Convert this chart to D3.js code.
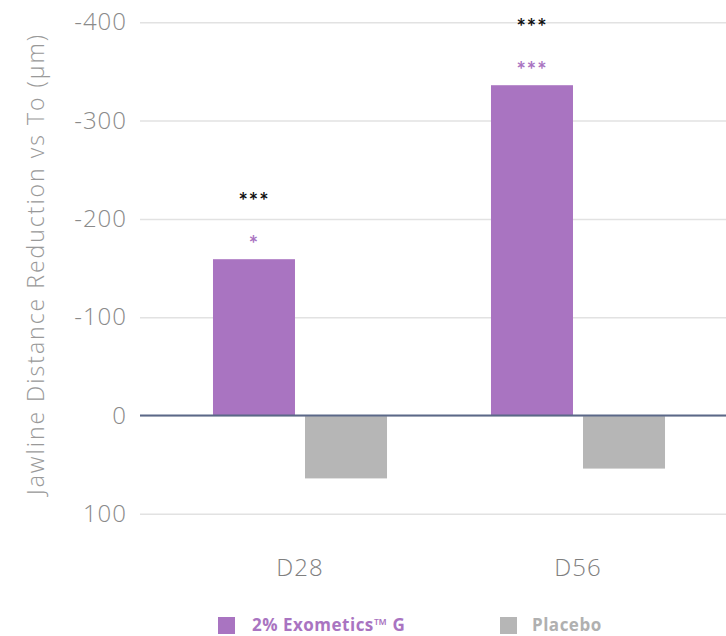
<!DOCTYPE html>
<html>
<head>
<meta charset="utf-8">
<script src="https://cdn.jsdelivr.net/npm/d3@7"></script>
<style>
  body { margin: 0; background: #fff; }
  svg text { font-family: "Open Sans", Lato, sans-serif; }
</style>
</head>
<body>
<svg id="chart" width="726" height="636"></svg>
<script>
// chart data
var categories = ["D28", "D56"];
var seriesNames = ["2% Exometics™ G", "Placebo"];
var exometics = [-159, -336];
var placebo = [64, 54];
var starsVsPlacebo = ["***", "***"];   // black stars above the purple bars
var starsVsT0 = ["*", "***"];          // purple stars just above the purple bars
var yTicks = [-400, -300, -200, -100, 0, 100];

var colors = ["#a974c1", "#b6b6b6"];

var svg = d3.select("#chart");

// scales
var yScale = d3.scaleLinear()
    .domain([-400, 100])
    .range([22.3, 513.8]);

var x0 = d3.scaleBand()
    .domain(categories)
    .range([161, 717])
    .paddingInner(0.374)
    .paddingOuter(0.187);

var x1 = d3.scaleBand()
    .domain([0, 1])
    .range([0, x0.bandwidth()])
    .paddingInner(0.109);

// gridlines + tick labels
var yAxis = d3.axisLeft(yScale)
    .tickValues(yTicks)
    .tickSize(-586)
    .tickPadding(13)
    .tickFormat(function(d) { return d; });

svg.append("g")
    .attr("transform", "translate(140,0)")
    .call(yAxis)
    .call(function(g) {
        g.select(".domain").remove();
        g.selectAll(".tick line").attr("stroke", "#e2e2e2").attr("stroke-width", 1.5);
        g.selectAll(".tick text")
            .attr("fill", "#8a8a8a")
            .style("font-size", "24px")
            .style("font-weight", "300")
            .style("letter-spacing", "1px");
    });

// bars
var groups = svg.selectAll(".grp")
    .data(categories)
    .enter()
    .append("g")
    .attr("class", "grp")
    .attr("transform", function(d) { return "translate(" + x0(d) + ",0)"; });

groups.selectAll("rect")
    .data(function(d, i) { return [exometics[i], placebo[i]]; })
    .enter()
    .append("rect")
    .attr("x", function(d, j) { return x1(j); })
    .attr("y", function(d) { return yScale(Math.min(0, d)); })
    .attr("width", x1.bandwidth())
    .attr("height", function(d) { return Math.abs(yScale(d) - yScale(0)); })
    .attr("fill", function(d, j) { return colors[j]; });

// zero line
svg.append("line")
    .attr("x1", 140)
    .attr("x2", 726)
    .attr("y1", yScale(0))
    .attr("y2", yScale(0))
    .attr("stroke", "#5b6888")
    .attr("stroke-width", 2);

// significance stars
groups.append("text")
    .attr("x", x1(0) + x1.bandwidth() / 2)
    .attr("y", function(d, i) { return yScale(exometics[i]) - 50; })
    .attr("text-anchor", "middle")
    .attr("fill", "#111")
    .style("font-family", "Lato, sans-serif")
    .style("font-size", "22px")
    .style("font-weight", "bold")
    .style("letter-spacing", "1px")
    .text(function(d, i) { return starsVsPlacebo[i]; });

groups.append("text")
    .attr("x", x1(0) + x1.bandwidth() / 2)
    .attr("y", function(d, i) { return yScale(exometics[i]) - 7; })
    .attr("text-anchor", "middle")
    .attr("fill", "#a974c1")
    .style("font-family", "Lato, sans-serif")
    .style("font-size", "22px")
    .style("font-weight", "bold")
    .style("letter-spacing", "1px")
    .text(function(d, i) { return starsVsT0[i]; });

// category labels
svg.append("g")
    .selectAll("text")
    .data(categories)
    .enter()
    .append("text")
    .attr("x", function(d) { return x0(d) + x0.bandwidth() / 2; })
    .attr("y", 576)
    .attr("text-anchor", "middle")
    .attr("fill", "#7f7f7f")
    .style("font-size", "24px")
    .style("font-weight", "300")
    .style("letter-spacing", "1px")
    .text(function(d) { return d; });

// y axis title
svg.append("text")
    .attr("transform", "translate(44,264) rotate(-90)")
    .attr("text-anchor", "middle")
    .attr("fill", "#999")
    .style("font-size", "23px")
    .style("font-weight", "300")
    .style("letter-spacing", "2px")
    .text("Jawline Distance Reduction vs To (µm)");

// legend
var legendX = [218, 500];
var legend = svg.selectAll(".legend")
    .data(seriesNames)
    .enter()
    .append("g")
    .attr("class", "legend")
    .attr("transform", function(d, i) { return "translate(" + legendX[i] + ",617)"; });

legend.append("rect")
    .attr("width", 17)
    .attr("height", 17)
    .attr("fill", function(d, i) { return colors[i]; });

legend.append("text")
    .attr("x", function(d, i) { return i == 0 ? 34 : 32; })
    .attr("y", 14)
    .attr("fill", function(d, i) { return i == 0 ? "#a974c1" : "#b0b0b0"; })
    .style("font-size", "17px")
    .style("font-weight", "bold")
    .style("letter-spacing", "0.5px")
    .text(function(d) { return d; });
</script>
</body>
</html>
